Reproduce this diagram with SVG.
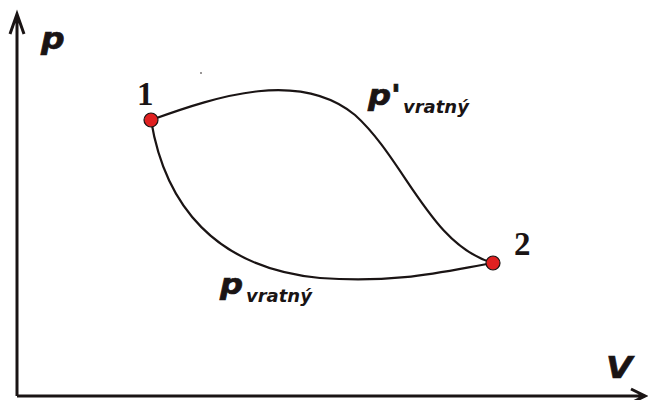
<svg xmlns="http://www.w3.org/2000/svg" width="648" height="400" viewBox="0 0 648 400">
<style>
.axis{stroke:#1a1414;stroke-width:3;fill:none}
.curve{stroke:#1a1414;stroke-width:2.2;fill:none}
.pt{fill:#e02020;stroke:#1a1414;stroke-width:1.2}
.num{font-family:"Liberation Serif",serif;font-weight:bold;font-size:33px;fill:#1a1414}
.lab{font-family:"DejaVu Sans",Verdana,sans-serif;font-weight:bold;font-style:italic;fill:#1a1414}
.big{font-size:28px;stroke:#1a1414;stroke-width:0.7}
.sub{font-size:18px}
</style>
<rect width="648" height="400" fill="#fff"/>
<g id="axes">
<path class="axis" d="M17,396 V14 M10,34 L17,14 L24,34"/>
<path class="axis" d="M17,396 H645 M631,389 L645,396 L631,403"/>
<text class="lab" transform="translate(41,49) scale(1.1,1)" font-size="30" stroke="#1a1414" stroke-width="0.7">p</text>
<text class="lab" transform="translate(606,378) scale(1.1,1)" font-size="31" stroke="#1a1414" stroke-width="0.6">V</text>
</g>
<g id="connectors">
<path class="curve" d="M151,120 C220,95 300,70 355,115 C405,160 430,245 493,263"/>
<path class="curve" d="M151,120 C165,205 215,268 320,278 C400,284 450,270 493,263"/>
</g>
<g id="node1">
<circle class="pt" cx="151" cy="120" r="7"/>
<text class="num" x="137" y="105">1</text>
</g>
<g id="node2">
<circle class="pt" cx="493" cy="263" r="7"/>
<text class="num" x="514" y="255">2</text>
</g>
<g id="label-top">
<text class="lab big" transform="translate(368,105) scale(1.15,1)">p'</text>
<text class="lab sub" x="403" y="113">vratný</text>
</g>
<g id="label-bottom">
<text class="lab big" transform="translate(220,294) scale(1.15,1)">p</text>
<text class="lab sub" x="246" y="302">vratný</text>
</g>
<circle cx="201" cy="73" r="0.8" fill="#1a1414"/>
</svg>
